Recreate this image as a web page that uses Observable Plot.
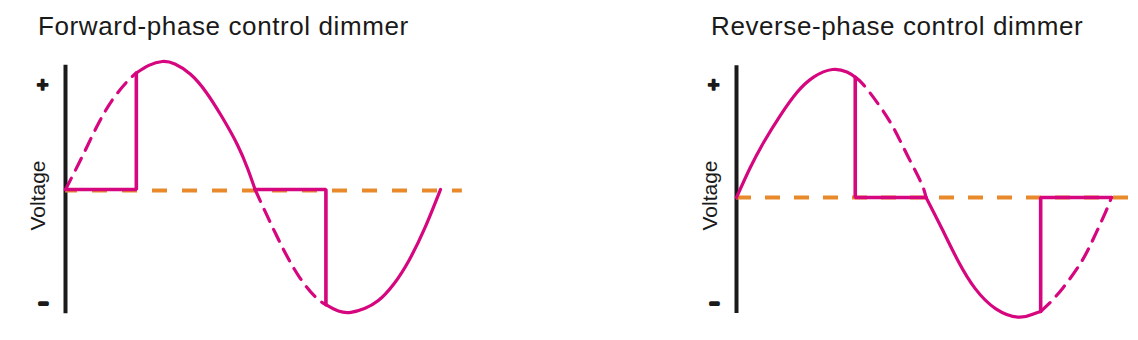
<!DOCTYPE html>
<html>
<head>
<meta charset="utf-8">
<script src="https://cdn.jsdelivr.net/npm/d3@7"></script>
<script src="https://cdn.jsdelivr.net/npm/@observablehq/plot@0.6"></script>
<style>
  html, body { margin: 0; padding: 0; background: #fff; }
  #wrap { position: relative; width: 1138px; height: 340px; overflow: hidden; font-family: "Liberation Sans", Arial, sans-serif; }
  .panel { position: absolute; top: 0; }
  .title { height: 45px; box-sizing: border-box; padding-top: 13px; font-size: 26px; line-height: 26px; letter-spacing: 0.6px; color: #1a1a1a; white-space: nowrap; }
  .panel svg { display: block; }
</style>
</head>
<body>
<div id="wrap"></div>
<script>
// ---- data (x = phase angle in degrees, y = relative voltage) ----
const titles = ["Forward-phase control dimmer", "Reverse-phase control dimmer"];
const axisLabel = "Voltage";
const tickLabels = ["+", "–"];

// Forward-phase
const fwdTicks = [0.81, -0.88];
const fwdAxisSpan = [0.97, -0.97];
const fwdZeroSpan = [0, 381];
const fwdDashed1 = [[0,0],[15,0.24],[30,0.49],[45,0.70],[60,0.85],[68,0.91]];
const fwdSolid1  = [[68,0.91],[80,0.97],[93,1.0],[105,0.98],[120,0.90],[135,0.76],[150,0.57],[165,0.35],[175,0.16],[182,0]];
const fwdDashed2 = [[182,0],[195,-0.23],[210,-0.48],[225,-0.69],[240,-0.84],[250,-0.90]];
const fwdSolid2  = [[250,-0.90],[262,-0.95],[274,-0.96],[287,-0.93],[300,-0.87],[315,-0.74],[330,-0.55],[345,-0.30],[360,0]];
const fwdStep1 = [[0,0],[68,0],[68,0.91]];
const fwdStep2 = [[182,0],[250,0],[250,-0.90]];

// Reverse-phase
const revTicks = [0.875, -0.82];
const revAxisSpan = [1.03, -0.906];
const revZeroSpan = [0, 383];
const revSolid1  = [[0,0],[13,0.23],[26,0.43],[42,0.64],[58,0.82],[74,0.94],[92,1.0],[106,0.98],[114,0.94]];
const revDashed1 = [[114,0.94],[122,0.88],[137,0.72],[151,0.54],[164,0.33],[177,0.12],[182,0]];
const revSolid2  = [[182,0],[197,-0.24],[213,-0.50],[229,-0.71],[249,-0.87],[271,-0.935],[285,-0.91],[292,-0.89]];
const revDashed2 = [[292,-0.89],[300,-0.83],[313,-0.71],[329,-0.53],[341,-0.35],[354,-0.12],[360,0]];
const revStep1 = [[114,0.94],[114,0],[182,0]];
const revStep2 = [[292,-0.89],[292,0],[360,0]];

// ---- styles ----
const MAGENTA = "#d6067f";
const ORANGE = "#e8892b";
const INK = "#1a1a1a";
const FONT = "Liberation Sans, Arial, sans-serif";

function panel(cfg) {
  const lineOpts = (extra) => Object.assign({x: d => d[0], y: d => d[1], stroke: MAGENTA, strokeWidth: 3.2, curve: "natural"}, extra);
  return Plot.plot({
    width: cfg.width,
    height: 295,
    marginLeft: cfg.ml,
    marginRight: cfg.mr,
    marginTop: cfg.mt,
    marginBottom: cfg.mb,
    x: {domain: [0, 360], axis: null},
    y: {domain: [-1, 1], axis: null},
    style: {fontFamily: FONT, background: "transparent", overflow: "visible"},
    marks: [
      Plot.ruleX([0], {y1: cfg.axisSpan[0], y2: cfg.axisSpan[1], stroke: INK, strokeWidth: 4}),
      Plot.ruleY([0], {x1: cfg.zeroSpan[0], x2: cfg.zeroSpan[1], stroke: ORANGE, strokeWidth: 4, strokeDasharray: cfg.zeroDash, strokeDashoffset: cfg.dashOff, dy: cfg.zeroDy}),
      Plot.line(cfg.dashed1, lineOpts({strokeDasharray: "13,9"})),
      Plot.line(cfg.dashed2, lineOpts({strokeDasharray: "13,9"})),
      Plot.line(cfg.solid1, lineOpts({})),
      Plot.line(cfg.solid2, lineOpts({})),
      Plot.line(cfg.step1, lineOpts({curve: "linear", strokeWidth: 3.6, strokeLinejoin: "miter"})),
      Plot.line(cfg.step2, lineOpts({curve: "linear", strokeWidth: 3.6, strokeLinejoin: "miter"})),
      Plot.text([tickLabels[0]], {y: [cfg.ticks[0]], frameAnchor: "left", dx: cfg.tickDx - 1, text: d => d, fontSize: 20, fontWeight: "bold", fill: INK, stroke: INK, strokeWidth: 1.6, textAnchor: "middle"}),
      Plot.text([tickLabels[1]], {y: [cfg.ticks[1]], frameAnchor: "left", dx: cfg.tickDx, dy: 1, text: d => d, fontSize: 15, fontWeight: "bold", fill: INK, stroke: INK, strokeWidth: 3.4, textAnchor: "middle"}),
      Plot.text([axisLabel], {frameAnchor: "left", dx: cfg.labelDx, dy: cfg.labelDy, rotate: -90, text: d => d, fontSize: 21, fill: INK, textAnchor: "middle"})
    ]
  });
}

const wrap = document.getElementById("wrap");
const configs = [
  {left: 0, titlePad: 38, width: 470, ml: 65, mr: 30, mt: 16, mb: 23,
   axisSpan: fwdAxisSpan, zeroSpan: fwdZeroSpan, ticks: fwdTicks, zeroDash: "15,15", dashOff: 3, zeroDy: 1,
   dashed1: fwdDashed1, solid1: fwdSolid1, dashed2: fwdDashed2, solid2: fwdSolid2, step1: fwdStep1, step2: fwdStep2,
   tickDx: -22, labelDx: -27, labelDy: 6, title: titles[0]},
  {left: 672, titlePad: 39, width: 466, ml: 64, mr: 27, mt: 24, mb: 15,
   axisSpan: revAxisSpan, zeroSpan: revZeroSpan, ticks: revTicks, zeroDash: "15,14", dashOff: 0, zeroDy: 0,
   dashed1: revDashed1, solid1: revSolid1, dashed2: revDashed2, solid2: revSolid2, step1: revStep1, step2: revStep2,
   tickDx: -22, labelDx: -26, labelDy: -2, title: titles[1]}
];
for (const cfg of configs) {
  const div = document.createElement("div");
  div.className = "panel";
  div.style.left = cfg.left + "px";
  div.style.width = cfg.width + "px";
  const t = document.createElement("div");
  t.className = "title";
  t.style.paddingLeft = cfg.titlePad + "px";
  t.textContent = cfg.title;
  div.appendChild(t);
  div.appendChild(panel(cfg));
  wrap.appendChild(div);
}
</script>
</body>
</html>
